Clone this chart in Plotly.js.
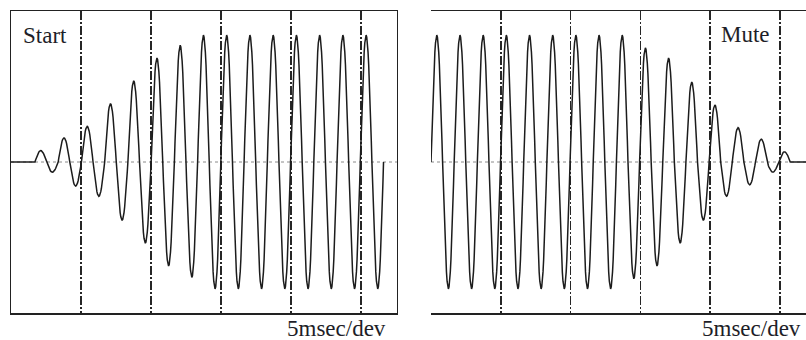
<!DOCTYPE html>
<html>
<head>
<meta charset="utf-8">
<script src="https://cdn.plot.ly/plotly-3.0.1.min.js"></script>
<style>html,body{margin:0;padding:0;background:#fff;}#chart{width:806px;height:340px;}</style>
</head>
<body>
<div id="chart"></div>
<script>
// ---- data (amplitude relative to full scale) ----
const startPeaks   = [0.09, 0.19, 0.28, 0.46, 0.64, 0.82, 0.92, 1, 1, 1, 1, 1, 1, 1, 1];
const startTroughs = [0.08, 0.19, 0.27, 0.46, 0.64, 0.82, 0.91, 1, 1, 1, 1, 1, 1, 1, 1];
const mutePeaks    = [1, 1, 1, 1, 1, 1, 1, 1, 1, 0.90, 0.82, 0.63, 0.45, 0.27, 0.18, 0.08];
const muteTroughs  = [1, 1, 1, 1, 1, 1, 1, 1, 0.92, 0.82, 0.64, 0.46, 0.27, 0.18, 0.08];
const periodMs = 1.66;        // one cycle of the tone
const startOnsetMs = 1.71;    // tone begins (left panel)
const muteOnsetMs = 0.0;      // panel starts at a zero crossing (right panel)
const leftRangeMs = [0, 27.57];
const rightRangeMs = [0, 26.86];
const panelLabels = ["Start", "Mute"];
const divLabel = "5msec/dev";

function buildWave(peaks, troughs, onset, range, flatBefore, flatAfter) {
  const halves = [];
  for (let i = 0; i < Math.max(peaks.length, troughs.length); i++) {
    if (i < peaks.length) halves.push(peaks[i]);
    if (i < troughs.length) halves.push(-troughs[i]);
  }
  const xs = [], ys = [];
  if (flatBefore) { xs.push(range[0]); ys.push(0); }
  const half = periodMs / 2, n = 18;
  halves.forEach((a, k) => {
    for (let j = (k === 0 ? 0 : 1); j <= n; j++) {
      const f = j / n;
      xs.push(onset + (k + f) * half);
      ys.push(a * Math.sin(Math.PI * f));
    }
  });
  if (flatAfter) { xs.push(range[1]); ys.push(0); }
  return {x: xs, y: ys};
}

const w1 = buildWave(startPeaks, startTroughs, startOnsetMs, leftRangeMs, true, false);
const w2 = buildWave(mutePeaks, muteTroughs, muteOnsetMs, rightRangeMs, false, true);

const lineStyle = {color: '#1c1c1c', width: 1.5, shape: 'linear'};
const traces = [
  {x: w1.x, y: w1.y, type: 'scatter', mode: 'lines', line: lineStyle, xaxis: 'x', yaxis: 'y', hoverinfo: 'skip'},
  {x: w2.x, y: w2.y, type: 'scatter', mode: 'lines', line: lineStyle, xaxis: 'x2', yaxis: 'y2', hoverinfo: 'skip'}
];

const font = {family: 'Liberation Serif, Times New Roman, serif', size: 23, color: '#1e1e28'};
const xCommon = {
  showticklabels: false, ticks: '', zeroline: false,
  showgrid: true, dtick: 5, tick0: 0, gridcolor: '#262626', gridwidth: 1.5, griddash: '9px,2px,2px,2px',
  showline: true, mirror: true, linecolor: '#222', linewidth: 1.5, fixedrange: true
};
const yCommon = {range: [-1.19, 1.19], showticklabels: false, ticks: '', zeroline: false, showgrid: false, fixedrange: true};

const layout = {
  width: 806, height: 340,
  margin: {l: 11, r: 0, t: 11, b: 27, pad: 0},
  paper_bgcolor: '#fff', plot_bgcolor: '#fff',
  showlegend: false,
  xaxis: Object.assign({}, xCommon, {domain: [0, 0.4855], range: leftRangeMs}),
  yaxis: Object.assign({}, yCommon, {showline: true, mirror: true, linecolor: '#222', linewidth: 1.5}),
  xaxis2: Object.assign({}, xCommon, {domain: [0.5283, 1], range: rightRangeMs, anchor: 'y2'}),
  yaxis2: Object.assign({}, yCommon, {anchor: 'x2', showline: false}),
  shapes: [
    {type: 'line', xref: 'x domain', yref: 'y', x0: 0, x1: 1, y0: 0, y1: 0, layer: 'below', line: {color: '#8a8a8a', width: 1, dash: 'dot'}},
    {type: 'line', xref: 'x2 domain', yref: 'y2', x0: 0, x1: 1, y0: 0, y1: 0, layer: 'below', line: {color: '#8a8a8a', width: 1, dash: 'dot'}}
  ],
  annotations: [
    {text: panelLabels[0], xref: 'paper', yref: 'paper', x: 0.0125, y: 0.919, xanchor: 'left', yanchor: 'middle', showarrow: false, font: font},
    {text: panelLabels[1], xref: 'paper', yref: 'paper', x: 0.891, y: 0.923, xanchor: 'left', yanchor: 'middle', showarrow: false, font: font},
    {text: divLabel, xref: 'paper', yref: 'paper', x: 0.4746, y: -0.05, xanchor: 'right', yanchor: 'middle', showarrow: false, font: Object.assign({}, font, {size: 23})},
    {text: divLabel, xref: 'paper', yref: 'paper', x: 0.9966, y: -0.05, xanchor: 'right', yanchor: 'middle', showarrow: false, font: Object.assign({}, font, {size: 23})}
  ]
};

Plotly.newPlot('chart', traces, layout, {staticPlot: true, displayModeBar: false});
</script>
</body>
</html>
